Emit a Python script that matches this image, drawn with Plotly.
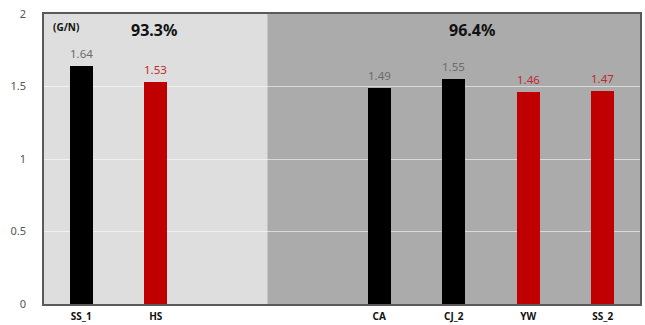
import plotly.graph_objects as go

# Category slots (two empty slots separate the groups)
categories = ["SS_1", "HS", "", "", "CA", "CJ_2", "YW", "SS_2"]
bar_names = ["SS_1", "HS", "CA", "CJ_2", "YW", "SS_2"]
bar_slots = [0, 1, 4, 5, 6, 7]
values = [1.64, 1.53, 1.49, 1.55, 1.46, 1.47]
bar_colors = ["#000000", "#c00000", "#000000", "#000000", "#c00000", "#c00000"]
label_colors = ["#6b6b6b", "#c0282d", "#6b6b6b", "#6b6b6b", "#c0282d", "#c0282d"]
group_shares = ["93.3%", "96.4%"]
y_ticks = [0, 0.5, 1, 1.5, 2]

fig = go.Figure()
fig.add_trace(go.Bar(
    x=bar_slots,
    y=values,
    width=0.31,
    marker=dict(color=bar_colors, line=dict(width=0)),
    hoverinfo="skip",
))

# Value labels above each bar
for s, v, c in zip(bar_slots, values, label_colors):
    fig.add_annotation(x=s, y=v, xref="x", yref="y", text=f"{v:.2f}",
                       yanchor="bottom", yshift=3, showarrow=False,
                       font=dict(size=11.5, color=c, family="Noto Sans"))

# Group backgrounds
fig.add_shape(type="rect", xref="x", yref="paper", x0=-0.5, x1=2.5, y0=0, y1=1,
              fillcolor="#dedede", line=dict(width=0), layer="below")
fig.add_shape(type="rect", xref="x", yref="paper", x0=2.5, x1=7.5, y0=0, y1=1,
              fillcolor="#ababab", line=dict(width=0), layer="below")

fig.add_annotation(x=0.98, y=1.89, xref="x", yref="y", text=f"<b>{group_shares[0]}</b>",
                   showarrow=False, font=dict(size=16, color="#111111", family="Noto Sans"))
fig.add_annotation(x=5.24, y=1.89, xref="x", yref="y", text=f"<b>{group_shares[1]}</b>",
                   showarrow=False, font=dict(size=16, color="#111111", family="Noto Sans"))
fig.add_annotation(x=-0.5, y=1.91, xref="x", yref="y", text="<b>(G/N)</b>", xanchor="left",
                   xshift=7, showarrow=False, font=dict(size=10, color="#111111", family="Noto Sans"))

fig.update_layout(
    width=645, height=325,
    margin=dict(l=44, r=5, t=14, b=21),
    paper_bgcolor="white",
    plot_bgcolor="#dedede",
    showlegend=False,
    bargap=0,
)
fig.update_xaxes(
    range=[-0.5, 7.5],
    automargin=False,
    tickmode="array",
    tickvals=list(range(len(categories))),
    ticktext=[f"<b>{c}</b>" for c in categories],
    tickfont=dict(size=10, color="#111111", family="Noto Sans"),
    showgrid=False,
    showline=True, linecolor="#5a5a5a", linewidth=1.5, mirror=True,
    ticks="outside", ticklen=2, tickcolor="rgba(0,0,0,0)",
)
fig.update_yaxes(
    range=[0, 2],
    automargin=False,
    tickmode="array",
    tickvals=y_ticks,
    ticktext=["0", "0.5", "1", "1.5", "2"],
    tickfont=dict(size=11, color="#555555", family="Noto Sans"),
    showgrid=True, gridcolor="rgba(255,255,255,0.55)", gridwidth=1,
    zeroline=False,
    showline=True, linecolor="#5a5a5a", linewidth=1.5, mirror=True,
    ticks="outside", ticklen=14, tickcolor="rgba(0,0,0,0)",
)

fig.write_html("out.html")
